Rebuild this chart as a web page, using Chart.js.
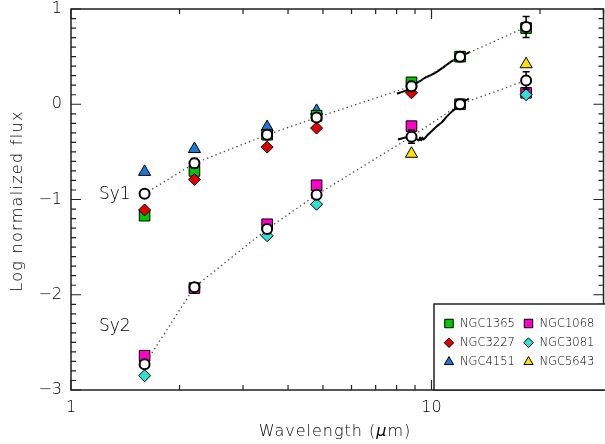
<!DOCTYPE html>
<html lang="en">
<head>
<meta charset="UTF-8">
<title>Average SEDs of Sy1 and Sy2</title>
<script src="https://cdn.jsdelivr.net/npm/chart.js"></script>
<style>
  html, body { margin: 0; padding: 0; background: #fff; overflow: hidden; }
  .chart-box { position: relative; width: 612px; height: 444px; }
</style>
</head>
<body>
<div class="chart-box"><canvas id="sedChart"></canvas></div>
<script>
// photometric bands (micron)
const wavelength = [1.6, 2.2, 3.5, 4.8, 8.8, 12.0, 18.3];

// average SEDs and their errors
const sy1Mean = [-0.94, -0.62, -0.32, -0.14, 0.19, 0.50, 0.81];
const sy1Err  = [0.04, 0.05, 0.04, 0.03, 0.05, 0.05, 0.11];
const sy2Mean = [-2.73, -1.92, -1.31, -0.95, -0.34, 0.00, 0.25];
const sy2Err  = [0.04, 0.04, 0.04, 0.04, 0.07, 0.05, 0.09];

// single galaxies (null = not observed)
const ngc1365 = [-1.17, -0.70, -0.32, -0.12, 0.23, 0.50, 0.80];
const ngc3227 = [-1.11, -0.79, -0.45, -0.25, 0.12, null, null];
const ngc4151 = [-0.71, -0.47, -0.24, -0.07, null, null, null];
const ngc1068 = [-2.64, -1.93, -1.26, -0.85, -0.23, 0.00, 0.12];
const ngc3081 = [-2.85, null, -1.38, -1.05, null, null, 0.10];
const ngc5643 = [null, null, null, null, -0.52, null, 0.42];

// N-band spectra
const sy1SpecWave = [8.02, 8.3, 8.55, 8.79, 9.05, 9.31, 9.61, 10.02, 10.45, 10.8, 11.26, 11.62, 11.93, 12.3, 12.8];
const sy1SpecFlux = [0.11, 0.13, 0.15, 0.20, 0.22, 0.245, 0.28, 0.31, 0.35, 0.39, 0.44, 0.47, 0.50, 0.52, 0.55];
const sy2SpecWave = [8.07, 8.46, 8.79, 9.05, 9.22, 9.3, 9.36, 9.43, 9.5, 9.61, 9.77, 10.02, 10.35, 10.68, 11.02, 11.37, 11.62, 11.93, 12.3, 12.7];
const sy2SpecFlux = [-0.37, -0.35, -0.34, -0.36, -0.38, -0.35, -0.38, -0.35, -0.37, -0.35, -0.32, -0.28, -0.23, -0.19, -0.13, -0.08, -0.05, 0.01, 0.03, 0.06];

// axes
const xTicks = [1, 2, 3, 4, 5, 6, 7, 8, 9, 10, 20, 30];
const xTickLabels = ['1', '', '', '', '', '', '', '', '', '10', '', ''];
const yTicks = [-3, -2, -1, 0, 1];
const yTickLabels = ['\u22123', '\u22122', '\u22121', '0', '1'];

const FONT = '"DejaVu Sans", sans-serif';
const W = '200 ';
const INK = '#000';

function toXY(xs, ys) {
  return xs.map((x, i) => ({ x: x, y: ys[i] })).filter(p => p.y !== null);
}

function galaxy(label, values, style, color, radius, col, row) {
  return {
    label: label,
    data: toXY(wavelength, values),
    showLine: false,
    pointStyle: style,
    pointRadius: radius,
    backgroundColor: color,
    borderColor: '#000',
    borderWidth: 1,
    legendCol: col,
    legendRow: row
  };
}

function meanSed(label, values, errs) {
  return {
    label: label,
    data: toXY(wavelength, values),
    showLine: true,
    borderColor: '#444',
    borderWidth: 1.3,
    borderDash: [1.3, 3.2],
    pointStyle: 'circle',
    pointRadius: 5,
    pointBorderWidth: 2,
    pointBackgroundColor: '#fff',
    pointBorderColor: '#000',
    errorBars: errs
  };
}

function spectrum(label, xs, ys) {
  return {
    label: label,
    data: toXY(xs, ys),
    showLine: true,
    borderColor: '#000',
    borderWidth: 2,
    pointRadius: 0,
    tension: 0.2
  };
}

// error bars drawn just before the mean circles
const errorBarPlugin = {
  id: 'errorBars',
  beforeDatasetDraw(chart, args) {
    const ds = chart.data.datasets[args.index];
    if (!ds.errorBars) return;
    const ctx = chart.ctx, xs = chart.scales.x, ys = chart.scales.y;
    ctx.save();
    ctx.strokeStyle = '#000';
    ctx.lineWidth = 1.5;
    ds.data.forEach((p, i) => {
      const e = ds.errorBars[i];
      const px = xs.getPixelForValue(p.x);
      const y1 = ys.getPixelForValue(p.y + e);
      const y2 = ys.getPixelForValue(p.y - e);
      ctx.beginPath();
      ctx.moveTo(px, y1); ctx.lineTo(px, y2);
      ctx.moveTo(px - 3.5, y1); ctx.lineTo(px + 3.5, y1);
      ctx.moveTo(px - 3.5, y2); ctx.lineTo(px + 3.5, y2);
      ctx.stroke();
    });
    ctx.restore();
  }
};

// frame, inward ticks, titles, labels and legend box
const framePlugin = {
  id: 'frame',
  afterDraw(chart) {
    const ctx = chart.ctx, a = chart.chartArea;
    const xs = chart.scales.x, ys = chart.scales.y;
    ctx.save();
    ctx.strokeStyle = '#222';
    ctx.lineWidth = 1.5;
    ctx.strokeRect(a.left, a.top, a.right - a.left, a.bottom - a.top);

    ctx.lineWidth = 1.2;
    ctx.beginPath();
    xTicks.forEach((v, i) => {
      const px = xs.getPixelForValue(v);
      const len = xTickLabels[i] ? 10 : 5;
      ctx.moveTo(px, a.bottom); ctx.lineTo(px, a.bottom - len);
      ctx.moveTo(px, a.top); ctx.lineTo(px, a.top + len);
    });
    for (let k = -30; k <= 10; k++) {
      const py = ys.getPixelForValue(k / 10);
      const len = k % 10 === 0 ? 10 : 5;
      ctx.moveTo(a.left, py); ctx.lineTo(a.left + len, py);
      ctx.moveTo(a.right, py); ctx.lineTo(a.right - len, py);
    }
    ctx.stroke();

    // axis titles
    ctx.fillStyle = INK;
    ctx.font = W + '16px ' + FONT;
    ctx.textBaseline = 'middle';
    ctx.save();
    ctx.letterSpacing = '1.3px';
    ctx.translate(18, 201);
    ctx.rotate(-Math.PI / 2);
    ctx.textAlign = 'center';
    ctx.fillText('Log normalized flux', 0, 0);
    ctx.restore();

    ctx.save();
    ctx.letterSpacing = '1px';
    const parts = [['Wavelength (', W + '16px ' + FONT], ['\u03bc', 'italic ' + W + '16px ' + FONT], ['m)', W + '16px ' + FONT]];
    let total = 0;
    parts.forEach(p => { ctx.font = p[1]; total += ctx.measureText(p[0]).width; });
    let tx = 335 - total / 2;
    ctx.textAlign = 'left';
    parts.forEach(p => { ctx.font = p[1]; ctx.fillText(p[0], tx, 432); tx += ctx.measureText(p[0]).width; });
    ctx.restore();

    // class labels
    ctx.font = W + '17px ' + FONT;
    ctx.fillText('Sy1', 99, 195);
    ctx.fillText('Sy2', 99, 327);

    // legend box
    ctx.fillStyle = '#fff';
    ctx.fillRect(434, 304, 200, a.bottom - 304);
    ctx.strokeStyle = '#222';
    ctx.lineWidth = 1.5;
    ctx.strokeRect(434, 304, 200, a.bottom - 304);
    ctx.font = W + '11.5px ' + FONT;
    chart.data.datasets.forEach(ds => {
      if (ds.legendCol === undefined) return;
      const mx = 449 + ds.legendCol * 79.5;
      const my = 323.5 + ds.legendRow * 19.2;
      ctx.fillStyle = ds.backgroundColor;
      ctx.strokeStyle = '#000';
      ctx.lineWidth = 1;
      const r = ds.pointStyle === 'rect' ? 6 : (ds.pointStyle === 'rectRot' ? 4.8 : 5.3);
      Chart.helpers.drawPoint(ctx, { pointStyle: ds.pointStyle, radius: r, rotation: 0, borderWidth: 1 }, mx, my);
      ctx.fillStyle = INK;
      ctx.fillText(ds.label, mx + 11, my + 0.5);
    });
    ctx.restore();
  }
};

const tickFont = { family: FONT, size: 16, weight: 200 };

new Chart(document.getElementById('sedChart'), {
  type: 'scatter',
  data: {
    datasets: [
      meanSed('Sy1', sy1Mean, sy1Err),
      meanSed('Sy2', sy2Mean, sy2Err),
      spectrum('Sy1 spectrum', sy1SpecWave, sy1SpecFlux),
      spectrum('Sy2 spectrum', sy2SpecWave, sy2SpecFlux),
      galaxy('NGC3227', ngc3227, 'rectRot', '#e00000', 6, 0, 1),
      galaxy('NGC1365', ngc1365, 'rect', '#00c800', 7.5, 0, 0),
      galaxy('NGC4151', ngc4151, 'triangle', '#1a78d8', 7, 0, 2),
      galaxy('NGC3081', ngc3081, 'rectRot', '#30e0d0', 6, 1, 1),
      galaxy('NGC1068', ngc1068, 'rect', '#ff00c8', 7.5, 1, 0),
      galaxy('NGC5643', ngc5643, 'triangle', '#ffe000', 7, 1, 2)
    ]
  },
  options: {
    responsive: true,
    maintainAspectRatio: false,
    animation: false,
    layout: { padding: { top: 9, right: 6, left: 0, bottom: 0 } },
    plugins: { legend: { display: false }, tooltip: { enabled: false } },
    scales: {
      x: {
        type: 'logarithmic',
        min: 1,
        max: 30,
        afterBuildTicks: s => { s.ticks = xTicks.map(v => ({ value: v })); },
        afterFit: s => { s.height = 54; s.paddingLeft = 0; s.paddingRight = 0; },
        grid: { display: false, drawTicks: false },
        border: { display: false },
        ticks: {
          autoSkip: false, maxRotation: 0, padding: 8, color: INK, font: tickFont,
          callback: (v, i) => xTickLabels[i]
        }
      },
      y: {
        type: 'linear',
        min: -3,
        max: 1,
        afterBuildTicks: s => { s.ticks = yTicks.map(v => ({ value: v })); },
        afterFit: s => { s.width = 71; s.paddingTop = 0; s.paddingBottom = 0; },
        grid: { display: false, drawTicks: false },
        border: { display: false },
        ticks: {
          autoSkip: false, padding: 9, color: INK, font: tickFont,
          callback: (v, i) => yTickLabels[i]
        }
      }
    }
  },
  plugins: [errorBarPlugin, framePlugin]
});
</script>
</body>
</html>
